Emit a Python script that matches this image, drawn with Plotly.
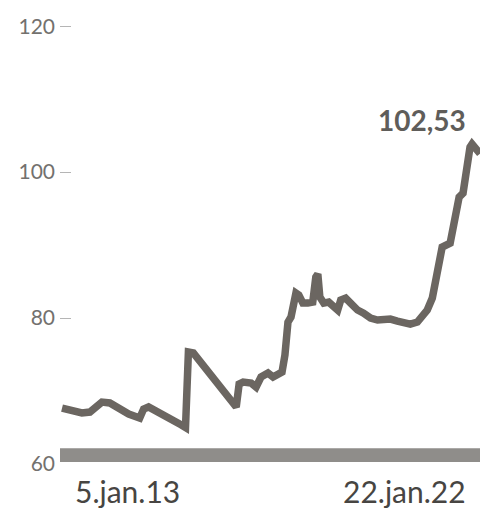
import plotly.graph_objects as go

dates = [
    "2013-01-05", "2013-02-21", "2013-04-09", "2013-06-11", "2013-08-13", "2013-09-22",
    "2013-11-16", "2014-01-18", "2014-03-29", "2014-06-16", "2014-09-11", "2014-10-12",
    "2014-11-20", "2015-01-07", "2015-03-26", "2015-06-13", "2015-08-07", "2015-09-08",
    "2015-10-01", "2015-11-09", "2016-02-04", "2016-04-23", "2016-07-10", "2016-09-19",
    "2016-10-13", "2016-11-05", "2016-12-07", "2017-02-08", "2017-03-19", "2017-04-27",
    "2017-06-21", "2017-07-31", "2017-09-08", "2017-10-10", "2017-11-02", "2017-11-26",
    "2017-12-20", "2018-01-28", "2018-02-20", "2018-03-24", "2018-05-02", "2018-06-10",
    "2018-07-04", "2018-07-20", "2018-08-05", "2018-09-05", "2018-10-14", "2018-11-23",
    "2018-12-24", "2019-01-17", "2019-02-25", "2019-04-05", "2019-05-30", "2019-07-17",
    "2019-09-10", "2019-11-04", "2019-12-21", "2020-02-14", "2020-04-09", "2020-05-26",
    "2020-07-20", "2020-09-14", "2020-10-23", "2020-12-01", "2021-01-10", "2021-02-02",
    "2021-02-26", "2021-03-29", "2021-05-31", "2021-06-24", "2021-07-25", "2021-08-10",
    "2021-09-10", "2021-09-26", "2021-10-20", "2021-11-04", "2021-11-20", "2021-12-29",
    "2022-01-22",
]
values = [
    67.67, 67.53, 67.40, 66.99, 67.12, 67.67,
    68.49, 68.36, 67.53, 66.85, 66.30, 67.53,
    67.81, 67.40, 66.71, 66.03, 65.34, 65.00,
    75.34, 75.21, 73.29, 71.51, 69.73, 68.08,
    67.81, 70.96, 71.23, 71.10, 70.55, 71.92,
    72.47, 71.92, 72.19, 72.60, 74.93, 79.45,
    80.14, 83.42, 83.15, 82.05, 82.05, 82.19,
    85.62, 86.03, 82.88, 82.05, 82.19, 81.51,
    81.10, 82.47, 82.74, 82.05, 81.10, 80.68,
    80.00, 79.73, 79.86, 79.86, 79.59, 79.45,
    79.18, 79.45, 80.41, 81.10, 82.74, 85.21,
    87.67, 89.73, 90.27, 92.05, 94.79, 96.58,
    97.12, 99.32, 101.23, 103.42, 103.84, 103.01,
    102.53,
]
y_ticks = [60, 80, 100, 120]
x_labels = ["5.jan.13", "22.jan.22"]

LINE = "#6b6661"
BAR = "#8f8d8a"
FONT = "Lato"

fig = go.Figure()
fig.add_trace(go.Scatter(
    x=dates, y=values, mode="lines",
    line=dict(color=LINE, width=7.5),
    hoverinfo="skip", showlegend=False,
))

fig.add_shape(type="rect", xref="paper", yref="y", x0=0, x1=1, y0=60.27, y1=62.15,
              fillcolor=BAR, line=dict(width=0), layer="below")

last_txt = f"{values[-1]:.2f}".replace(".", ",")
fig.add_annotation(x=dates[-1], y=values[-1], text=f"<b>{last_txt}</b>", showarrow=False,
                   xanchor="right", yanchor="middle", xshift=-12, yshift=34,
                   font=dict(family=FONT, size=28, color="#5f5d5a"))

fig.add_annotation(x=0.16, y=-0.062, xref="paper", yref="paper", text=x_labels[0],
                   showarrow=False, xanchor="center", yanchor="middle",
                   font=dict(family=FONT, size=30, color="#474542"))
fig.add_annotation(x=0.821, y=-0.062, xref="paper", yref="paper", text=x_labels[1],
                   showarrow=False, xanchor="center", yanchor="middle",
                   font=dict(family=FONT, size=30, color="#474542"))

fig.update_layout(
    width=480, height=509,
    margin=dict(l=60, r=0, t=24, b=45),
    paper_bgcolor="white", plot_bgcolor="white",
    xaxis=dict(range=["2012-12-20", "2022-01-22"], showgrid=False, zeroline=False,
               showline=False, showticklabels=False, ticks=""),
    yaxis=dict(range=[60, 120.3], tickvals=y_ticks, ticktext=[str(t) for t in y_ticks],
               showgrid=False, zeroline=False, showline=False,
               ticks="inside", ticklen=11, tickwidth=1, tickcolor="#b5b5b5",
               ticklabelstandoff=4,
               tickfont=dict(family=FONT, size=21, color="#73716e")),
)

fig.write_html("out.html")
